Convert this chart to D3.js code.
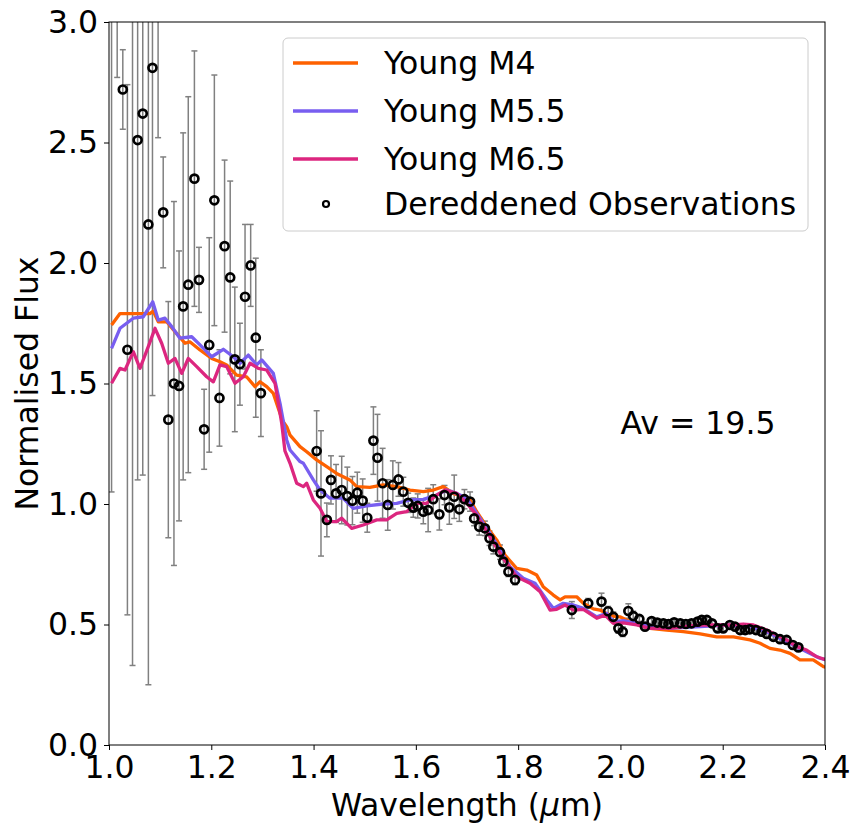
<!DOCTYPE html>
<html><head><meta charset="utf-8">
<script src="https://cdn.jsdelivr.net/npm/d3@7"></script>
<style>body{margin:0;background:#fff}svg{display:block}text{font-family:"DejaVu Sans",sans-serif;fill:#000}</style>
</head><body><svg id="c" width="854" height="826"></svg>
<script>
const xTicks=[1.0,1.2,1.4,1.6,1.8,2.0,2.2,2.4];
const yTicks=[0.0,0.5,1.0,1.5,2.0,2.5,3.0];
const seriesNames=["Young M4","Young M5.5","Young M6.5"];
const seriesColors=["#fe6100","#785ef0","#dc267f"];
const m4=[[1.005,1.743],[1.0215,1.79],[1.0475,1.79],[1.08,1.79],[1.0866,1.80],[1.0964,1.756],[1.1128,1.756],[1.129,1.715],[1.1486,1.667],[1.158,1.673],[1.178,1.639],[1.2008,1.604],[1.217,1.59],[1.23,1.577],[1.2497,1.535],[1.269,1.528],[1.2855,1.487],[1.2953,1.507],[1.3084,1.487],[1.3213,1.459],[1.3344,1.376],[1.341,1.34],[1.3475,1.321],[1.354,1.286],[1.3735,1.238],[1.3866,1.217],[1.406,1.183],[1.4257,1.155],[1.445,1.127],[1.471,1.10],[1.4844,1.072],[1.51,1.069],[1.536,1.079],[1.5626,1.072],[1.5886,1.058],[1.6146,1.051],[1.634,1.058],[1.6537,1.072],[1.673,1.044],[1.6928,1.03],[1.706,1.017],[1.719,0.968],[1.7386,0.906],[1.758,0.851],[1.7743,0.788],[1.797,0.733],[1.8168,0.726],[1.8363,0.705],[1.849,0.657],[1.8688,0.622],[1.882,0.602],[1.8917,0.615],[1.9145,0.615],[1.9275,0.588],[1.947,0.565],[1.96,0.56],[1.9732,0.545],[1.986,0.535],[1.999,0.532],[2.0253,0.505],[2.058,0.484],[2.0905,0.477],[2.123,0.47],[2.156,0.461],[2.1883,0.449],[2.221,0.449],[2.2534,0.436],[2.273,0.422],[2.2925,0.401],[2.312,0.394],[2.3317,0.38],[2.351,0.353],[2.377,0.353],[2.397,0.325],[2.41,0.32]];
const m55=[[1.005,1.646],[1.0215,1.729],[1.0475,1.771],[1.067,1.777],[1.0855,1.839],[1.0964,1.763],[1.1095,1.771],[1.1226,1.736],[1.1388,1.688],[1.1617,1.694],[1.178,1.66],[1.2008,1.611],[1.2235,1.642],[1.243,1.611],[1.2562,1.584],[1.2724,1.618],[1.2888,1.577],[1.2986,1.598],[1.3213,1.542],[1.3344,1.418],[1.3475,1.266],[1.354,1.224],[1.3735,1.176],[1.38,1.169],[1.3995,1.10],[1.4126,1.058],[1.432,1.024],[1.458,1.024],[1.4777,0.982],[1.504,0.992],[1.536,1.0],[1.5626,1.003],[1.5886,1.017],[1.6146,1.019],[1.6408,1.037],[1.6603,1.058],[1.68,1.044],[1.6995,1.024],[1.719,0.961],[1.745,0.878],[1.7646,0.809],[1.784,0.74],[1.81,0.692],[1.833,0.671],[1.856,0.602],[1.8688,0.567],[1.888,0.588],[1.908,0.581],[1.9275,0.567],[1.9537,0.532],[1.9732,0.546],[1.986,0.512],[2.0057,0.516],[2.032,0.505],[2.058,0.491],[2.0905,0.484],[2.156,0.491],[2.208,0.498],[2.2534,0.491],[2.286,0.47],[2.312,0.442],[2.338,0.415],[2.364,0.387],[2.39,0.36],[2.403,0.353]];
const m65=[[1.005,1.501],[1.0215,1.563],[1.0313,1.556],[1.0475,1.632],[1.0606,1.563],[1.0768,1.653],[1.09,1.729],[1.103,1.667],[1.116,1.584],[1.129,1.604],[1.1422,1.542],[1.155,1.604],[1.1715,1.57],[1.191,1.528],[1.204,1.507],[1.217,1.577],[1.23,1.57],[1.2464,1.501],[1.2626,1.528],[1.2757,1.584],[1.292,1.563],[1.3084,1.556],[1.3246,1.501],[1.3377,1.335],[1.344,1.22],[1.354,1.169],[1.367,1.086],[1.38,1.072],[1.3866,1.086],[1.3995,1.017],[1.4126,0.982],[1.4257,0.927],[1.445,0.927],[1.455,0.941],[1.4746,0.899],[1.497,0.913],[1.5235,0.934],[1.543,0.934],[1.5626,0.961],[1.582,0.968],[1.6017,1.003],[1.6212,1.003],[1.6408,1.037],[1.657,1.058],[1.68,1.044],[1.6995,1.003],[1.719,0.954],[1.745,0.864],[1.771,0.774],[1.797,0.698],[1.8232,0.671],[1.843,0.636],[1.8623,0.56],[1.8754,0.563],[1.8917,0.581],[1.908,0.56],[1.9275,0.563],[1.9537,0.526],[1.97,0.539],[1.986,0.505],[2.0057,0.507],[2.032,0.498],[2.058,0.484],[2.0905,0.484],[2.123,0.491],[2.156,0.498],[2.221,0.498],[2.24,0.502],[2.26,0.498],[2.286,0.477],[2.3056,0.456],[2.325,0.436],[2.345,0.408],[2.364,0.394],[2.384,0.366],[2.403,0.353]];
const obsWave=[1.005,1.016,1.027,1.036,1.046,1.056,1.066,1.077,1.085,1.096,1.106,1.116,1.127,1.137,1.145,1.155,1.167,1.176,1.186,1.196,1.206,1.216,1.226,1.237,1.246,1.256,1.266,1.277,1.287,1.297,
1.406,1.4145,1.426,1.434,1.444,1.455,1.466,1.476,1.4855,1.496,1.505,1.517,1.525,1.535,1.545,1.555,1.566,1.5755,1.585,1.595,1.6036,1.6146,1.624,1.634,1.646,1.656,1.6655,1.675,1.685,1.695,1.706,1.714,1.724,1.735,1.744,1.7515,1.7645,1.771,1.781,1.794,
1.905,1.937,1.963,1.976,1.986,1.996,2.0045,2.0155,2.025,2.037,2.048,2.061,2.072,2.084,2.094,2.105,2.117,2.128,2.139,2.151,2.159,2.169,2.179,2.19,2.201,2.214,2.224,2.234,2.244,2.253,2.265,2.276,2.286,2.299,2.312,2.325,2.337,2.348];
const obsFlux=[3.2,3.1,2.72,1.64,3.3,2.51,2.62,2.16,2.81,3.3,2.21,1.35,1.50,1.49,1.82,1.91,2.35,1.93,1.31,1.66,2.26,1.44,2.07,1.94,1.60,1.58,1.86,1.99,1.69,1.46,
1.22,1.044,0.934,1.10,1.044,1.058,1.033,1.014,1.047,1.014,0.943,1.263,1.192,1.086,0.996,1.079,1.102,1.051,1.005,0.985,0.992,0.968,0.975,1.02,0.957,1.037,0.986,1.03,0.978,1.02,1.01,0.94,0.906,0.899,0.858,0.823,0.80,0.761,0.719,0.685,
0.56,0.588,0.595,0.555,0.532,0.484,0.47,0.556,0.535,0.523,0.491,0.514,0.508,0.505,0.502,0.509,0.505,0.502,0.505,0.512,0.519,0.519,0.505,0.484,0.484,0.498,0.491,0.477,0.477,0.48,0.477,0.47,0.461,0.449,0.439,0.436,0.415,0.405];
const obsErr=[2.15,0.33,0.165,1.10,2.97,1.41,1.50,1.91,1.36,0.78,0.23,0.49,0.755,0.56,0.72,0.78,0.53,0.135,0.166,0.445,0.52,0.2,0.357,0.40,0.30,0.17,0.30,0.17,0.33,0.18,
0.167,0.26,0.07,0.10,0.12,0.14,0.12,0.10,0.085,0.09,0.06,0.14,0.18,0.145,0.105,0.10,0.07,0.06,0.04,0.04,0.05,0.05,0.09,0.06,0.065,0.04,0.07,0.09,0.05,0.04,0.04,0.03,0.035,0.03,0.03,0.03,0.03,0.02,0.02,0.02,
0.035,0.02,0.035,0.02,0.02,0.02,0.02,0.03,0.02,0.01,0.01,0.01,0.01,0.01,0.01,0.01,0.01,0.01,0.01,0.01,0.01,0.01,0.01,0.01,0.01,0.01,0.01,0.01,0.01,0.01,0.01,0.01,0.01,0.01,0.01,0.01,0.01,0.01];
const legendLabels=["Young M4","Young M5.5","Young M6.5","Dereddened Observations"];
const annotation="Av = 19.5";

const W=854,H=826,L=109,R=825,T=22,B=745;
const svg=d3.select("#c");
const x=d3.scaleLinear().domain([1.0,2.4]).range([L,R]);
const y=d3.scaleLinear().domain([0,3]).range([B,T]);
svg.append("defs").append("clipPath").attr("id","clip").append("rect").attr("x",L).attr("y",T).attr("width",R-L).attr("height",B-T);
const plot=svg.append("g").attr("clip-path","url(#clip)");
const obs=obsWave.map((w,i)=>({w,f:obsFlux[i],e:obsErr[i]}));
const eb=plot.append("g").attr("stroke","#808080").attr("stroke-width",1.5).attr("fill","none");
obs.forEach(d=>{
  const xp=x(d.w);
  eb.append("line").attr("x1",xp).attr("x2",xp).attr("y1",y(d.f-d.e)).attr("y2",y(d.f+d.e));
  eb.append("line").attr("x1",xp-3).attr("x2",xp+3).attr("y1",y(d.f-d.e)).attr("y2",y(d.f-d.e));
  eb.append("line").attr("x1",xp-3).attr("x2",xp+3).attr("y1",y(d.f+d.e)).attr("y2",y(d.f+d.e));
});
const line=d3.line().x(d=>x(d[0])).y(d=>y(d[1]));
[m4,m55,m65].forEach((s,i)=>{
  plot.append("path").datum(s).attr("d",line).attr("fill","none").attr("stroke",seriesColors[i]).attr("stroke-width",3.3).attr("stroke-linejoin","round");
});
plot.append("g").selectAll("circle").data(obs).join("circle")
  .attr("cx",d=>x(d.w)).attr("cy",d=>y(d.f)).attr("r",4)
  .attr("fill","none").attr("stroke","#000").attr("stroke-width",2.7);

const fs=31.5;
const xAxis=svg.append("g").attr("transform",`translate(0,${B})`).call(d3.axisBottom(x).tickValues(xTicks).tickFormat(d3.format(".1f")).tickSize(5).tickPadding(6));
const yAxis=svg.append("g").attr("transform",`translate(${L},0)`).call(d3.axisLeft(y).tickValues(yTicks).tickFormat(d3.format(".1f")).tickSize(5).tickPadding(6));
[xAxis,yAxis].forEach(a=>{a.select(".domain").remove();a.selectAll("text").style("font-size",fs+"px").style("font-family","DejaVu Sans");a.selectAll("line").attr("stroke","#000").attr("stroke-width",1);});
svg.append("rect").attr("x",L).attr("y",T).attr("width",R-L).attr("height",B-T).attr("fill","none").attr("stroke","#000").attr("stroke-width",1);

svg.append("text").attr("x",(L+R)/2).attr("y",816).attr("text-anchor","middle").style("font-size",fs+"px")
  .html('Wavelength (<tspan font-style="italic">μ</tspan>m)');
svg.append("text").attr("transform",`translate(38,${(T+B)/2}) rotate(-90)`).attr("text-anchor","middle").style("font-size",fs+"px").text("Normalised Flux");
svg.append("text").attr("x",698).attr("y",434).attr("text-anchor","middle").style("font-size",fs+"px").text(annotation);

const lg=svg.append("g");
lg.append("rect").attr("x",283).attr("y",38).attr("width",525).attr("height",193).attr("rx",5)
  .attr("fill","#fff").attr("fill-opacity",0.8).attr("stroke","#cccccc").attr("stroke-width",1);
const rowY=[63,111,159,204];
legendLabels.forEach((lab,i)=>{
  if(i<3){
    lg.append("line").attr("x1",293).attr("x2",358).attr("y1",rowY[i]).attr("y2",rowY[i]).attr("stroke",seriesColors[i]).attr("stroke-width",3.3);
  } else {
    lg.append("circle").attr("cx",326).attr("cy",rowY[i]).attr("r",3).attr("fill","none").attr("stroke","#000").attr("stroke-width",2.2);
  }
  lg.append("text").attr("x",384).attr("y",rowY[i]).attr("dy","0.36em").style("font-size",fs+"px").text(lab);
});
</script></body></html>
